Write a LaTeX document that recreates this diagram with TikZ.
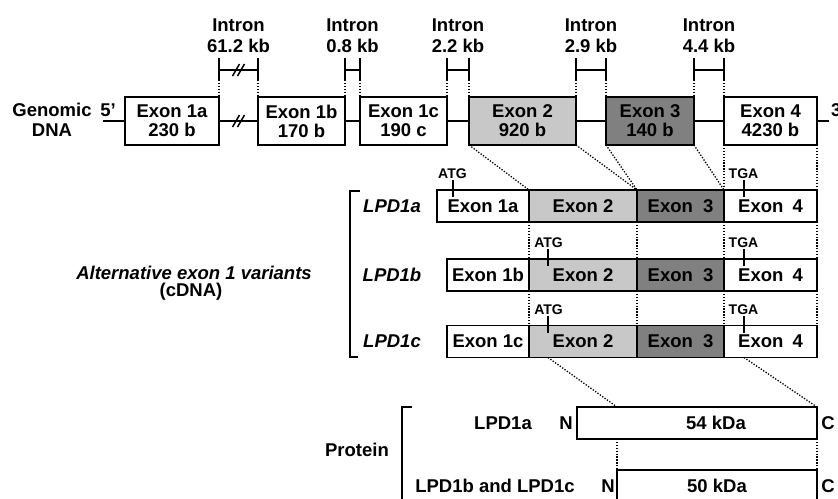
\documentclass[tikz,border=0pt]{standalone}
\usepackage{fontspec}
\setmainfont{Liberation Sans}
\usetikzlibrary{calc}
\definecolor{exTwo}{RGB}{200,200,200}
\definecolor{exThree}{RGB}{128,128,128}
\begin{document}
\begin{tikzpicture}[x=1pt,y=-1pt,line width=1.9pt,
  big/.style={font=\bfseries\fontsize{18.5}{19}\selectfont},
  small/.style={font=\bfseries\fontsize{14}{15}\selectfont},
  ital/.style={font=\bfseries\itshape\fontsize{18.5}{19}\selectfont},
  txt/.style={inner sep=0pt,outer sep=0pt,align=center},
  box/.style={draw,outer sep=0pt,inner sep=0pt,align=center,line width=1.9pt,
    font=\bfseries\fontsize{18.5}{19}\selectfont},
  gbox/.style={box,minimum height=48pt},
  cbox/.style={box,minimum height=32pt},
  dots/.style={line width=1.3pt,dash pattern=on 1.3pt off 1.6pt},
  tick/.style={line width=2.6pt},
  brk/.style={line width=1.5pt}]
\clip (0,0) rectangle (838,498);
\fill[white] (0,0) rectangle (838,498);

% ---------- Genomic DNA ----------
\node[txt,font=\bfseries\fontsize{18.5}{20}\selectfont] (gdna) at (52,120) {Genomic\\DNA};
\node[txt,big] (five) at (108,110) {5'};
\node[txt,big,anchor=west] (three) at (831,110) {3'};
\coordinate (g5) at (103,121);
\coordinate (g3) at (829,121);

\node[gbox,minimum width=94pt] (e1a) at (172,121) {Exon 1a\\230 b};
\node[gbox,minimum width=87pt] (e1b) at (301.5,121) {Exon 1b\\170 b};
\node[gbox,minimum width=87pt] (e1c) at (403.5,121) {Exon 1c\\190 c};
\node[gbox,minimum width=107pt,fill=exTwo] (e2) at (522.5,121) {Exon 2\\920 b};
\node[gbox,minimum width=88pt,fill=exThree] (e3) at (650,121) {Exon 3\\140 b};
\node[gbox,minimum width=93pt] (e4) at (770.5,121) {Exon 4\\4230 b};

\draw (g5) -- (e1a.west);
\draw (e1a.east) -- (e1b.west);
\draw (e1b.east) -- (e1c.west);
\draw (e1c.east) -- (e2.west);
\draw (e2.east) -- (e3.west);
\draw (e3.east) -- (e4.west);
\draw (e4.east) -- (g3);
% break on the genomic line
\draw[brk] (232.5,127) -- (239.5,115);
\draw[brk] (237.5,127) -- (244.5,115);

% ---------- Introns ----------
\foreach \n/\xa/\xb/\lab in {i1/219/258/61.2 kb,i2/345/360/0.8 kb,i3/447/469/2.2 kb,i4/576/606/2.9 kb,i5/694/724/4.4 kb}{
  \coordinate (\n la) at (\xa,58);
  \coordinate (\n lb) at (\xa,80);
  \coordinate (\n lc) at (\xa,97);
  \coordinate (\n ra) at (\xb,58);
  \coordinate (\n rb) at (\xb,80);
  \coordinate (\n rc) at (\xb,97);
  \coordinate (\n hl) at (\xa,70);
  \coordinate (\n hr) at (\xb,70);
  \draw (\n la) -- (\n lb);
  \draw (\n ra) -- (\n rb);
  \draw (\n hl) -- (\n hr);
  \draw[dots] (\n lb) -- (\n lc);
  \draw[dots] (\n rb) -- (\n rc);
  \node[txt,font=\bfseries\fontsize{18.5}{21}\selectfont] (\n t) at ({(\xa+\xb)/2},35.5) {Intron\\\lab};
}
\draw[brk] (232.5,76) -- (239.5,64);
\draw[brk] (237.5,76) -- (244.5,64);

% ---------- cDNA rows ----------
\node[cbox,minimum width=92pt] (c1a) at (483,206) {Exon 1a};
\node[cbox,minimum width=108pt,fill=exTwo] (c2a) at (583,206) {Exon 2};
\node[cbox,minimum width=87pt,fill=exThree] (c3a) at (680.5,206) {Exon\hspace{5pt} 3};
\node[cbox,minimum width=93pt] (c4a) at (770.5,206) {Exon\hspace{4pt} 4};

\node[cbox,minimum width=82pt] (c1b) at (488,275) {Exon 1b};
\node[cbox,minimum width=108pt,fill=exTwo] (c2b) at (583,275) {Exon 2};
\node[cbox,minimum width=87pt,fill=exThree] (c3b) at (680.5,275) {Exon\hspace{5pt} 3};
\node[cbox,minimum width=93pt] (c4b) at (770.5,275) {Exon\hspace{4pt} 4};

\node[cbox,minimum width=82pt] (c1c) at (488,341.5) {Exon 1c};
\node[cbox,minimum width=108pt,fill=exTwo] (c2c) at (583,341.5) {Exon 2};
\node[cbox,minimum width=87pt,fill=exThree] (c3c) at (680.5,341.5) {Exon\hspace{5pt} 3};
\node[cbox,minimum width=93pt] (c4c) at (770.5,341.5) {Exon\hspace{4pt} 4};

% genomic -> cDNA dotted
\draw[dots] (e2.south west) -- (c2a.north west);
\draw[dots] (e2.south east) -- (c3a.north west);
\draw[dots] (e3.south west) -- (c3a.north west);
\draw[dots] (e3.south east) -- (c4a.north west);
\draw[dots] (e4.south west) -- (c4a.north west);
\draw[dots] (e4.south east) -- (c4a.north east);
% between rows
\draw[dots] (c2a.south west) -- (c2b.north west);
\draw[dots] (c3a.south west) -- (c3b.north west);
\draw[dots] (c4a.south west) -- (c4b.north west);
\draw[dots] (c4a.south east) -- (c4b.north east);
\draw[dots] (c2b.south west) -- (c2c.north west);
\draw[dots] (c3b.south west) -- (c3c.north west);
\draw[dots] (c4b.south west) -- (c4c.north west);
\draw[dots] (c4b.south east) -- (c4c.north east);

% ATG / TGA ticks
\foreach \r/\top in {a/190,b/259,c/326}{
  \coordinate (tgat\r) at (744,\top-10);
  \coordinate (tgab\r) at (744,\top+7);
  \draw[tick] (tgat\r) -- (tgab\r);
  \node[txt,small] (tga\r) at (743.5,\top-16.5) {TGA};
}
\coordinate (atgta) at (453,180);
\coordinate (atgba) at (453,197);
\draw[tick] (atgta) -- (atgba);
\node[txt,small] (atga) at (452.5,173.5) {ATG};
\coordinate (atgtb) at (548,249);
\coordinate (atgbb) at (548,266);
\draw[tick] (atgtb) -- (atgbb);
\node[txt,small] (atgb) at (548.5,242.5) {ATG};
\coordinate (atgtc) at (548,316);
\coordinate (atgbc) at (548,333);
\draw[tick] (atgtc) -- (atgbc);
\node[txt,small] (atgc) at (548.5,309.5) {ATG};

% row labels
\node[txt,ital] (la) at (392,206) {LPD1a};
\node[txt,ital] (lb) at (392,275) {LPD1b};
\node[txt,ital] (lc) at (392,341.5) {LPD1c};
\draw (360,191) -- (350,191) -- (350,357) -- (358,357);
\node[txt,ital] (alt) at (194,273) {Alternative exon 1 variants};
\node[txt,big] (cdna) at (191,292) {(cDNA)};

% ---------- Protein ----------
\node[cbox,minimum width=240pt] (p1) at (697,423) {};
\node[txt,big] (p1t) at (716,423) {54 kDa};
\node[cbox,minimum width=200pt] (p2) at (717,486) {50 kDa};
\coordinate (p1m) at (617,407);
\coordinate (p1mb) at (617,439);
\coordinate (s1) at (548,357.5);
\coordinate (s2) at (744,357.5);
\draw[dots] (s1) -- (p1m);
\draw[dots] (s2) -- (p1.north east);
\draw[dots] (p1mb) -- (p2.north west);
\draw[dots] (p1.south east) -- (p2.north east);

\node[txt,big] (n1) at (566,423) {N};
\node[txt,big] (n2) at (608,486) {N};
\node[txt,big] (cc1) at (828,423) {C};
\node[txt,big] (cc2) at (828,486) {C};
\node[txt,big] (pl1) at (503,423) {LPD1a};
\node[txt,big] (pl2) at (495,486) {LPD1b and LPD1c};
\node[txt,big] (prot) at (357,450) {Protein};
\draw (412,407) -- (402,407) -- (402,510);
\end{tikzpicture}
\end{document}
